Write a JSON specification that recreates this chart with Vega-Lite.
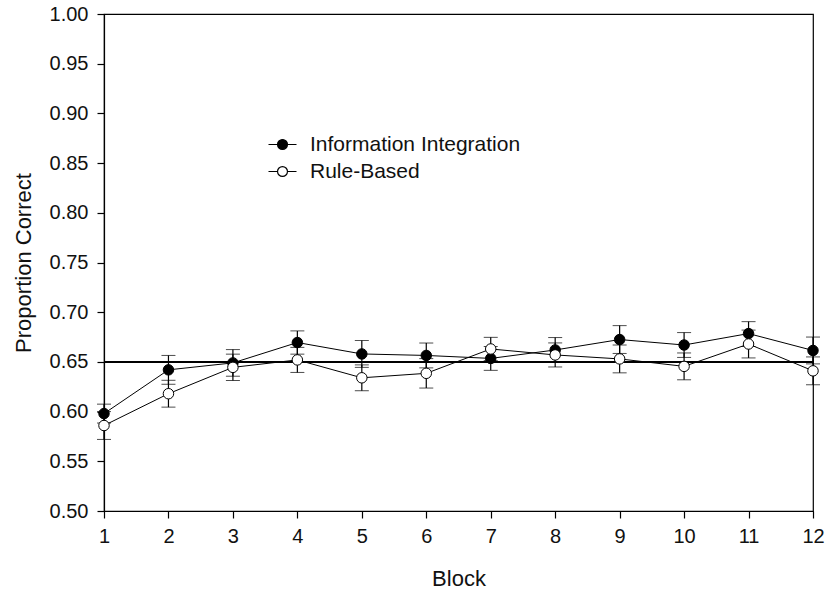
{
  "$schema": "https://vega.github.io/schema/vega-lite/v6.json",
  "autosize": {"type": "none"},
  "width": 709,
  "height": 497,
  "padding": {"left": 104, "top": 14, "right": 13, "bottom": 83},
  "background": "white",
  "config": {
    "view": {"stroke": "#000", "strokeWidth": 1.2},
    "font": "Liberation Sans",
    "axis": {
      "grid": false,
      "domainColor": "#000",
      "domainWidth": 1.2,
      "tickColor": "#000",
      "tickWidth": 1.2,
      "tickSize": 7,
      "labelFlush": false,
      "labelFont": "Liberation Sans",
      "labelFontSize": 20,
      "labelColor": "#111",
      "titleFont": "Liberation Sans",
      "titleFontSize": 22,
      "titleFontWeight": "normal",
      "titleColor": "#111"
    }
  },
  "data": {
    "values": [
      {"block": 1, "group": "Information Integration", "mean": 0.598, "lo": 0.5885, "hi": 0.6075},
      {"block": 2, "group": "Information Integration", "mean": 0.642, "lo": 0.6275, "hi": 0.6565},
      {"block": 3, "group": "Information Integration", "mean": 0.649, "lo": 0.6356, "hi": 0.6624},
      {"block": 4, "group": "Information Integration", "mean": 0.6695, "lo": 0.6578, "hi": 0.6812},
      {"block": 5, "group": "Information Integration", "mean": 0.658, "lo": 0.6445, "hi": 0.6715},
      {"block": 6, "group": "Information Integration", "mean": 0.6565, "lo": 0.644, "hi": 0.669},
      {"block": 7, "group": "Information Integration", "mean": 0.6535, "lo": 0.6415, "hi": 0.6655},
      {"block": 8, "group": "Information Integration", "mean": 0.662, "lo": 0.6495, "hi": 0.6745},
      {"block": 9, "group": "Information Integration", "mean": 0.6725, "lo": 0.6585, "hi": 0.6865},
      {"block": 10, "group": "Information Integration", "mean": 0.667, "lo": 0.6545, "hi": 0.6795},
      {"block": 11, "group": "Information Integration", "mean": 0.6785, "lo": 0.6655, "hi": 0.6905},
      {"block": 12, "group": "Information Integration", "mean": 0.6615, "lo": 0.648, "hi": 0.675},
      {"block": 1, "group": "Rule-Based", "mean": 0.586, "lo": 0.572, "hi": 0.6},
      {"block": 2, "group": "Rule-Based", "mean": 0.618, "lo": 0.6045, "hi": 0.6315},
      {"block": 3, "group": "Rule-Based", "mean": 0.6445, "lo": 0.6313, "hi": 0.6578},
      {"block": 4, "group": "Rule-Based", "mean": 0.652, "lo": 0.6394, "hi": 0.6646},
      {"block": 5, "group": "Rule-Based", "mean": 0.634, "lo": 0.621, "hi": 0.647},
      {"block": 6, "group": "Rule-Based", "mean": 0.6385, "lo": 0.6237, "hi": 0.6533},
      {"block": 7, "group": "Rule-Based", "mean": 0.663, "lo": 0.6513, "hi": 0.6747},
      {"block": 8, "group": "Rule-Based", "mean": 0.657, "lo": 0.6449, "hi": 0.6691},
      {"block": 9, "group": "Rule-Based", "mean": 0.653, "lo": 0.639, "hi": 0.667},
      {"block": 10, "group": "Rule-Based", "mean": 0.6455, "lo": 0.632, "hi": 0.659},
      {"block": 11, "group": "Rule-Based", "mean": 0.668, "lo": 0.654, "hi": 0.682},
      {"block": 12, "group": "Rule-Based", "mean": 0.641, "lo": 0.627, "hi": 0.655}
    ]
  },
  "encoding": {
    "x": {
      "field": "block",
      "type": "quantitative",
      "title": "Block",
      "scale": {"domain": [1, 12], "nice": false, "zero": false},
      "axis": {"values": [1, 2, 3, 4, 5, 6, 7, 8, 9, 10, 11, 12], "format": "d", "labelPadding": 8, "titlePadding": 22}
    }
  },
  "layer": [
    {
      "mark": {"type": "rule", "color": "#000", "strokeWidth": 1.2},
      "encoding": {"x": null, "y": {"datum": 0.65}}
    },
    {
      "mark": {"type": "line", "color": "#000", "strokeWidth": 1},
      "encoding": {
        "y": {
          "field": "mean",
          "type": "quantitative",
          "title": "Proportion Correct",
          "scale": {"domain": [0.5, 1.0], "nice": false, "zero": false},
          "axis": {"values": [0.5, 0.55, 0.6, 0.65, 0.7, 0.75, 0.8, 0.85, 0.9, 0.95, 1.0], "format": ".2f", "labelPadding": 9, "titlePadding": 14}
        },
        "detail": {"field": "group"}
      }
    },
    {
      "mark": {"type": "errorbar", "color": "#000", "ticks": {"size": 14, "color": "#000", "strokeWidth": 1.2}, "rule": {"strokeWidth": 1.2}},
      "encoding": {
        "y": {"field": "lo", "type": "quantitative", "title": "Proportion Correct"},
        "y2": {"field": "hi"},
        "detail": {"field": "group"}
      }
    },
    {
      "mark": {"type": "point", "shape": "circle", "filled": true, "size": 110, "stroke": "#000", "strokeWidth": 1, "opacity": 1},
      "encoding": {
        "y": {"field": "mean", "type": "quantitative", "title": "Proportion Correct"},
        "fill": {
          "field": "group",
          "type": "nominal",
          "scale": {"domain": ["Information Integration", "Rule-Based"], "range": ["#000", "#fff"]},
          "legend": {
            "title": null,
            "orient": "none",
            "legendX": 168,
            "legendY": 120,
            "symbolType": "M-2,0H-0.71M0.71,0H2M0.71,0A0.71,0.71,0,1,1,-0.71,0A0.71,0.71,0,1,1,0.71,0Z",
            "symbolSize": 196,
            "symbolStrokeColor": "#000",
            "symbolStrokeWidth": 1.2,
            "symbolOpacity": 1,
            "labelFont": "Liberation Sans",
            "labelFontSize": 21,
            "labelColor": "#111",
            "labelLimit": 400,
            "labelOffset": 17,
            "rowPadding": 5
          }
        }
      }
    }
  ]
}
